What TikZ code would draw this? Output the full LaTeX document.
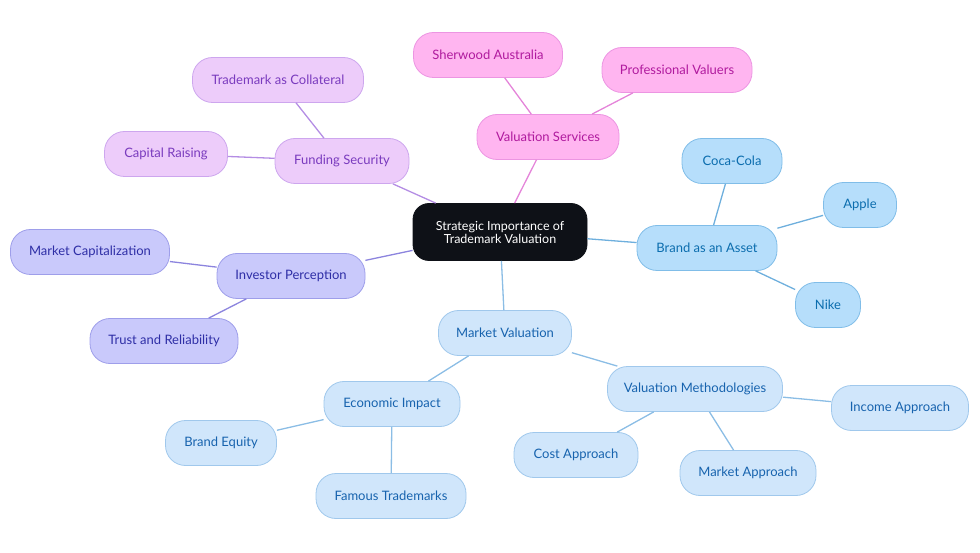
\documentclass[tikz,border=0pt]{standalone}
\usepackage{fontspec}
\setmainfont{Lato}
\definecolor{rootfill}{HTML}{0E1117}
\definecolor{pinkfill}{HTML}{FFB5F0}
\definecolor{pinkdraw}{HTML}{EC95E2}
\definecolor{pinktext}{HTML}{B01A9E}
\definecolor{pinkline}{HTML}{E484D9}
\definecolor{lavfill}{HTML}{EDCCFA}
\definecolor{lavdraw}{HTML}{CDA6EE}
\definecolor{lavtext}{HTML}{7A3BBE}
\definecolor{lavline}{HTML}{B48DE4}
\definecolor{indfill}{HTML}{C9C9FB}
\definecolor{inddraw}{HTML}{9E9EEA}
\definecolor{indtext}{HTML}{2E2EA6}
\definecolor{indline}{HTML}{8C84DE}
\definecolor{bluefill}{HTML}{B6DEFB}
\definecolor{bluedraw}{HTML}{80BDE8}
\definecolor{bluetext}{HTML}{0B6DAE}
\definecolor{blueline}{HTML}{6EAFDD}
\definecolor{palefill}{HTML}{D0E6FB}
\definecolor{paledraw}{HTML}{A0C8EC}
\definecolor{paletext}{HTML}{1763AE}
\definecolor{paleline}{HTML}{8BBDE5}
\tikzset{
  box/.style={rounded corners=20pt, minimum height=45pt, inner sep=0pt, font=\fontsize{13}{14.5}\selectfont, line width=0.8pt},
  rootbox/.style={box, rounded corners=16pt, fill=rootfill, draw=rootfill, text=white, minimum height=57pt, minimum width=174pt, align=center, font=\fontsize{12.5}{14}\selectfont},
  pinkbox/.style={box, fill=pinkfill, draw=pinkdraw, text=pinktext},
  lavbox/.style={box, fill=lavfill, draw=lavdraw, text=lavtext},
  indbox/.style={box, fill=indfill, draw=inddraw, text=indtext},
  bluebox/.style={box, fill=bluefill, draw=bluedraw, text=bluetext},
  palebox/.style={box, fill=palefill, draw=paledraw, text=paletext},
  link/.style={line width=1.3pt}
}
\begin{document}
\begin{tikzpicture}[x=1pt,y=-1pt]
\useasboundingbox (0,0) rectangle (980,553);
% root
\node[rootbox] (root) at (500,232) {Strategic Importance of\\[-1pt]Trademark Valuation};
% pink
\node[pinkbox, minimum width=142pt] (vs) at (548,137) {Valuation Services};
\node[pinkbox, minimum width=149pt] (sa) at (488,55) {Sherwood Australia};
\node[pinkbox, minimum width=150pt] (pv) at (677,70) {Professional Valuers};
% lavender
\node[lavbox, minimum width=134pt] (fs) at (342,161) {Funding Security};
\node[lavbox, minimum width=171pt] (tc) at (278,80) {Trademark as Collateral};
\node[lavbox, minimum width=123pt] (cr) at (166,154) {Capital Raising};
% indigo
\node[indbox, minimum width=148pt] (ip) at (291,276) {Investor Perception};
\node[indbox, minimum width=159pt] (mc) at (90,252) {Market Capitalization};
\node[indbox, minimum width=148pt] (tr) at (164,341) {Trust and Reliability};
% blue
\node[bluebox, minimum width=140pt] (ba) at (707,248) {Brand as an Asset};
\node[bluebox, minimum width=100pt] (cc) at (732,161) {Coca-Cola};
\node[bluebox, minimum width=73pt] (ap) at (860,205) {Apple};
\node[bluebox, minimum width=65pt] (nk) at (828,305) {Nike};
% pale blue
\node[palebox, minimum width=133pt] (mv) at (505,333) {Market Valuation};
\node[palebox, minimum width=136pt] (ei) at (392,404) {Economic Impact};
\node[palebox, minimum width=111pt] (be) at (221,443) {Brand Equity};
\node[palebox, minimum width=150pt] (ft) at (391,496) {Famous Trademarks};
\node[palebox, minimum width=175pt] (vm) at (695,389) {Valuation Methodologies};
\node[palebox, minimum width=137pt] (ia) at (900,408) {Income Approach};
\node[palebox, minimum width=124pt] (ca) at (576,455) {Cost Approach};
\node[palebox, minimum width=136pt] (ma) at (748,473) {Market Approach};
% links
\draw[link, pinkline] (root) -- (vs);
\draw[link, pinkline] (vs) -- (sa);
\draw[link, pinkline] (vs) -- (pv);
\draw[link, lavline] (root) -- (fs);
\draw[link, lavline] (fs) -- (tc);
\draw[link, lavline] (fs) -- (cr);
\draw[link, indline] (root) -- (ip);
\draw[link, indline] (ip) -- (mc);
\draw[link, indline] (ip) -- (tr);
\draw[link, blueline] (root) -- (ba);
\draw[link, blueline] (ba) -- (cc);
\draw[link, blueline] (ba) -- (ap);
\draw[link, blueline] (ba) -- (nk);
\draw[link, paleline] (root) -- (mv);
\draw[link, paleline] (mv) -- (ei);
\draw[link, paleline] (ei) -- (be);
\draw[link, paleline] (ei) -- (ft);
\draw[link, paleline] (mv) -- (vm);
\draw[link, paleline] (vm) -- (ia);
\draw[link, paleline] (vm) -- (ca);
\draw[link, paleline] (vm) -- (ma);
\end{tikzpicture}
\end{document}
